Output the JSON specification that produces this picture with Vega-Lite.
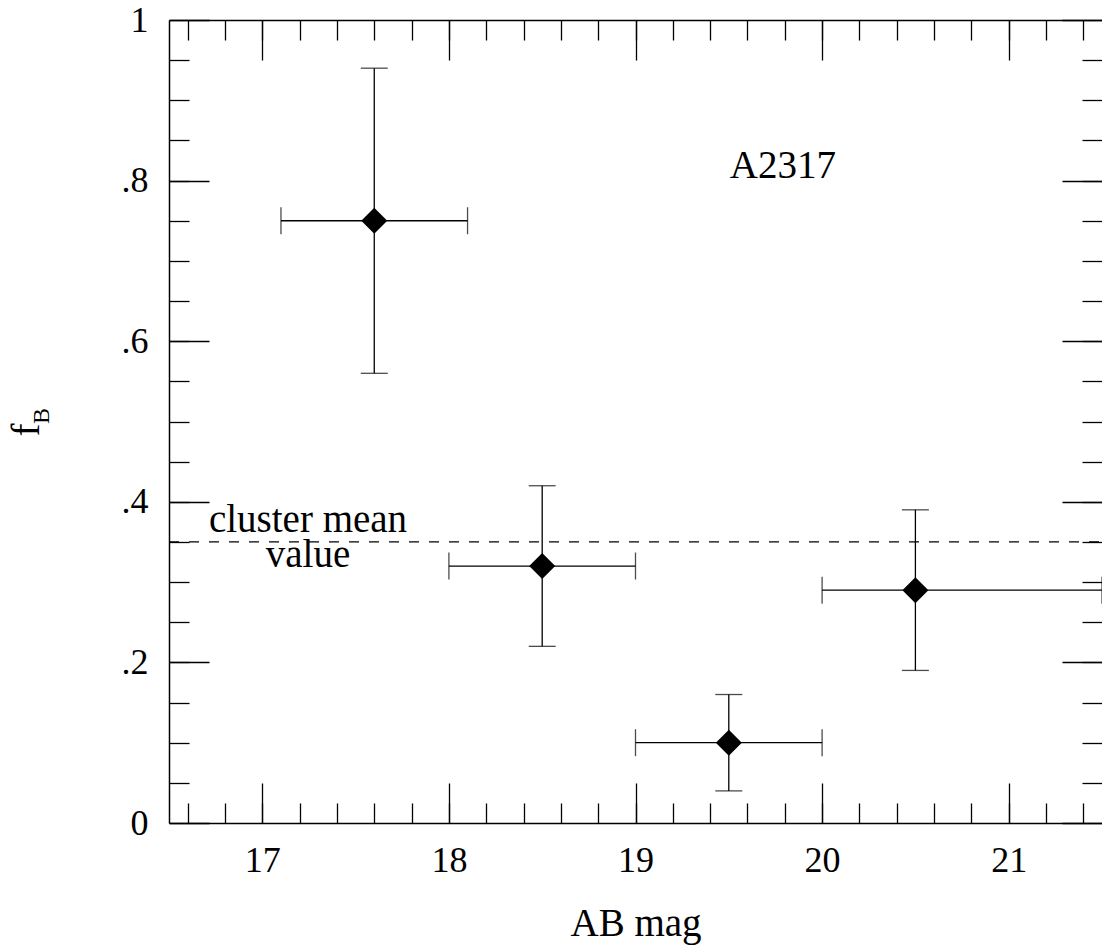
{
  "$schema": "https://vega.github.io/schema/vega-lite/v6.json",
  "autosize": "none",
  "padding": {"left": 169, "top": 20, "right": 0, "bottom": 128},
  "width": 933,
  "height": 803,
  "background": "white",
  "config": {
    "view": {"stroke": null},
    "axis": {
      "grid": false,
      "labelFont": "Liberation Serif",
      "titleFont": "Liberation Serif",
      "labelColor": "black",
      "titleColor": "black",
      "tickColor": "black",
      "domainColor": "black",
      "domainWidth": 1.5,
      "labelFontSize": 36,
      "titleFontSize": 39,
      "titleFontWeight": "normal",
      "tickWidth": 1.3
    },
    "text": {"font": "Liberation Serif", "color": "black"}
  },
  "datasets": {
    "pts": [
      {"mag": 17.6, "fb": 0.75, "magLo": 17.1, "magHi": 18.1, "fbLo": 0.56, "fbHi": 0.94},
      {"mag": 18.5, "fb": 0.32, "magLo": 18.0, "magHi": 19.0, "fbLo": 0.22, "fbHi": 0.42},
      {"mag": 19.5, "fb": 0.10, "magLo": 19.0, "magHi": 20.0, "fbLo": 0.04, "fbHi": 0.16},
      {"mag": 20.5, "fb": 0.29, "magLo": 20.0, "magHi": 21.5, "fbLo": 0.19, "fbHi": 0.39}
    ],
    "mean": [{"fbMean": 0.35, "from": 16.5, "to": 21.5}],
    "notes": [
      {"note": "cluster mean", "mag": 17.245, "fb": 0.362},
      {"note": "value", "mag": 17.245, "fb": 0.319},
      {"note": "A2317", "mag": 19.79, "fb": 0.803}
    ],
    "sub": [{"s": "B"}]
  },
  "resolve": {"axis": {"x": "independent", "y": "independent"}},
  "layer": [
    {
      "data": {"name": "pts"},
      "mark": {"type": "rule", "color": "black", "strokeWidth": 1.3},
      "encoding": {
        "x": {"field": "magLo", "type": "quantitative",
              "scale": {"domain": [16.5, 21.5], "nice": false, "zero": false},
              "axis": {"orient": "bottom", "values": [17, 18, 19, 20, 21], "tickSize": -40, "labels": false, "domain": false, "title": null}},
        "x2": {"field": "magHi"},
        "y": {"field": "fb", "type": "quantitative",
              "scale": {"domain": [0, 1], "nice": false, "zero": false},
              "axis": {"orient": "left", "values": [0, 0.2, 0.4, 0.6, 0.8, 1], "tickSize": -40, "labels": false, "domain": false, "title": null}}
      }
    },
    {
      "data": {"name": "pts"},
      "mark": {"type": "rule", "color": "black", "strokeWidth": 1.3},
      "encoding": {
        "x": {"field": "mag", "type": "quantitative",
              "scale": {"domain": [16.5, 21.5], "nice": false, "zero": false},
              "axis": {"orient": "bottom", "values": [16.6, 16.8, 17.0, 17.2, 17.4, 17.6, 17.8, 18.0, 18.2, 18.4, 18.6, 18.8, 19.0, 19.2, 19.4, 19.6, 19.8, 20.0, 20.2, 20.4, 20.6, 20.8, 21.0, 21.2, 21.4], "tickSize": -20, "labels": false, "domain": false, "title": null}},
        "y": {"field": "fbLo", "type": "quantitative",
              "scale": {"domain": [0, 1], "nice": false, "zero": false},
              "axis": {"orient": "left", "values": [0.05, 0.1, 0.15, 0.2, 0.25, 0.3, 0.35, 0.4, 0.45, 0.5, 0.55, 0.6, 0.65, 0.7, 0.75, 0.8, 0.85, 0.9, 0.95], "tickSize": -20, "labels": false, "domain": false, "title": null}},
        "y2": {"field": "fbHi"}
      }
    },
    {
      "data": {"name": "mean"},
      "mark": {"type": "rule", "color": "black", "strokeWidth": 1.3, "strokeDash": [10, 10]},
      "encoding": {
        "x": {"field": "from", "type": "quantitative",
              "scale": {"domain": [16.5, 21.5], "nice": false, "zero": false},
              "axis": {"orient": "top", "values": [16.6, 16.8, 17.0, 17.2, 17.4, 17.6, 17.8, 18.0, 18.2, 18.4, 18.6, 18.8, 19.0, 19.2, 19.4, 19.6, 19.8, 20.0, 20.2, 20.4, 20.6, 20.8, 21.0, 21.2, 21.4], "tickSize": -20, "labels": false, "domain": false, "title": null}},
        "x2": {"field": "to"},
        "y": {"field": "fbMean", "type": "quantitative",
              "scale": {"domain": [0, 1], "nice": false, "zero": false},
              "axis": {"orient": "right", "values": [0.05, 0.1, 0.15, 0.2, 0.25, 0.3, 0.35, 0.4, 0.45, 0.5, 0.55, 0.6, 0.65, 0.7, 0.75, 0.8, 0.85, 0.9, 0.95], "tickSize": -20, "labels": false, "domain": false, "title": null}}
      }
    },
    {
      "data": {"name": "pts"},
      "mark": {"type": "tick", "color": "black", "orient": "vertical", "size": 27, "thickness": 1.3},
      "encoding": {
        "x": {"field": "magLo", "type": "quantitative",
              "scale": {"domain": [16.5, 21.5], "nice": false, "zero": false},
              "axis": {"orient": "bottom", "values": [17, 18, 19, 20, 21], "ticks": false, "domain": true, "labelPadding": 20, "title": "AB mag", "titleY": 112, "titleBaseline": "alphabetic"}},
        "y": {"field": "fb", "type": "quantitative",
              "scale": {"domain": [0, 1], "nice": false, "zero": false},
              "axis": {"orient": "left", "values": [0, 0.2, 0.4, 0.6, 0.8, 1], "ticks": false, "domain": true, "labelPadding": 21,
                       "labelExpr": "replace(format(datum.value, '.1'), '0.', '.')",
                       "title": "f", "titleX": -131, "titleY": 409.5, "titleAngle": 270, "titleAlign": "center", "titleBaseline": "alphabetic"}}
      }
    },
    {
      "data": {"name": "pts"},
      "mark": {"type": "tick", "color": "black", "orient": "vertical", "size": 27, "thickness": 1.3},
      "encoding": {
        "x": {"field": "magHi", "type": "quantitative", "scale": {"domain": [16.5, 21.5], "nice": false, "zero": false}, "axis": null},
        "y": {"field": "fb", "type": "quantitative", "scale": {"domain": [0, 1], "nice": false, "zero": false}, "axis": null}
      }
    },
    {
      "data": {"name": "pts"},
      "mark": {"type": "tick", "color": "black", "orient": "horizontal", "size": 27, "thickness": 1.3},
      "encoding": {
        "x": {"field": "mag", "type": "quantitative", "scale": {"domain": [16.5, 21.5], "nice": false, "zero": false}, "axis": null},
        "y": {"field": "fbLo", "type": "quantitative", "scale": {"domain": [0, 1], "nice": false, "zero": false}, "axis": null}
      }
    },
    {
      "data": {"name": "pts"},
      "mark": {"type": "tick", "color": "black", "orient": "horizontal", "size": 27, "thickness": 1.3},
      "encoding": {
        "x": {"field": "mag", "type": "quantitative", "scale": {"domain": [16.5, 21.5], "nice": false, "zero": false}, "axis": null},
        "y": {"field": "fbHi", "type": "quantitative", "scale": {"domain": [0, 1], "nice": false, "zero": false}, "axis": null}
      }
    },
    {
      "data": {"name": "pts"},
      "mark": {"type": "point", "shape": "diamond", "filled": true, "color": "black", "size": 676, "opacity": 1},
      "encoding": {
        "x": {"field": "mag", "type": "quantitative",
              "scale": {"domain": [16.5, 21.5], "nice": false, "zero": false},
              "axis": {"orient": "top", "values": [17, 18, 19, 20, 21], "tickSize": -40, "labels": false, "domain": true, "title": null}},
        "y": {"field": "fb", "type": "quantitative",
              "scale": {"domain": [0, 1], "nice": false, "zero": false},
              "axis": {"orient": "right", "values": [0, 0.2, 0.4, 0.6, 0.8, 1], "tickSize": -40, "labels": false, "domain": false, "title": null}}
      }
    },
    {
      "data": {"name": "notes"},
      "mark": {"type": "text", "fontSize": 39, "align": "center", "baseline": "alphabetic", "font": "Liberation Serif"},
      "encoding": {
        "x": {"field": "mag", "type": "quantitative", "scale": {"domain": [16.5, 21.5], "nice": false, "zero": false}, "axis": null},
        "y": {"field": "fb", "type": "quantitative", "scale": {"domain": [0, 1], "nice": false, "zero": false}, "axis": null},
        "text": {"field": "note"}
      }
    },
    {
      "data": {"name": "sub"},
      "mark": {"type": "text", "fontSize": 24, "angle": 270, "align": "center", "baseline": "alphabetic", "dx": 5.5, "dy": -120, "font": "Liberation Serif"},
      "encoding": {
        "x": {"datum": 16.5, "type": "quantitative", "scale": {"domain": [16.5, 21.5], "nice": false, "zero": false}, "axis": null},
        "y": {"datum": 0.5, "type": "quantitative", "scale": {"domain": [0, 1], "nice": false, "zero": false}, "axis": null},
        "text": {"field": "s"}
      }
    }
  ]
}
